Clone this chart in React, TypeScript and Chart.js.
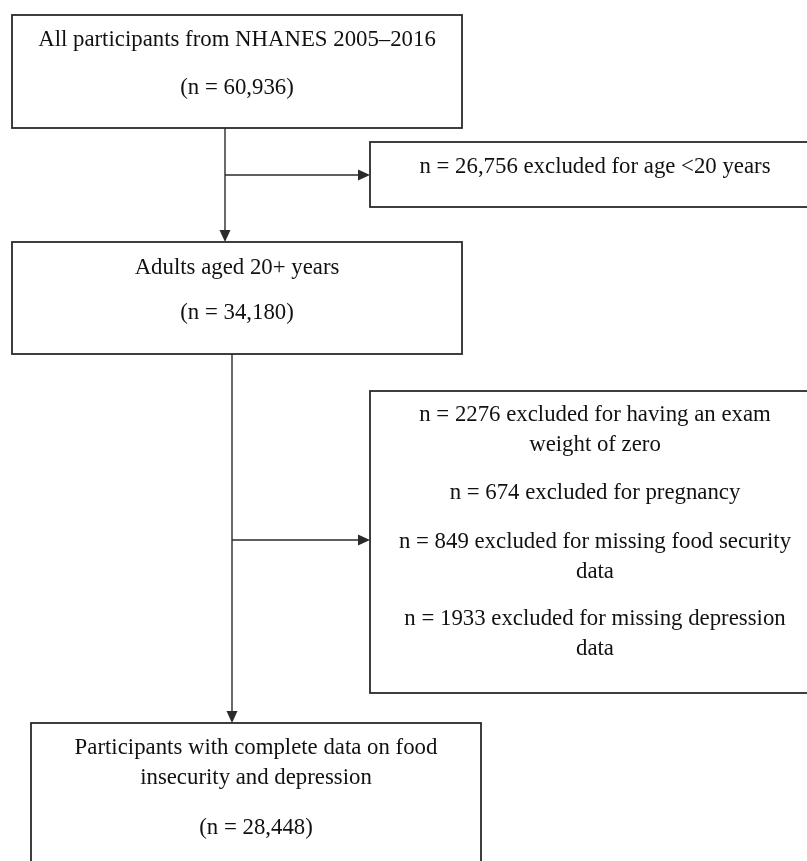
import React, { useEffect, useRef } from 'react';
import { Chart, registerables } from 'chart.js';

Chart.register(...registerables);

// ---- data ----
const stageTitles: string[][] = [
  ['All participants from NHANES 2005–2016'],
  ['Adults aged 20+ years'],
  ['Participants with complete data on food', 'insecurity and depression'],
];
const stageCounts: string[] = ['60,936', '34,180', '28,448'];

const exclusionCounts: string[][] = [['26,756'], ['2276', '674', '849', '1933']];
const exclusionReasons: string[][][] = [
  [['excluded for age <20 years']],
  [
    ['excluded for having an exam', 'weight of zero'],
    ['excluded for pregnancy'],
    ['excluded for missing food security', 'data'],
    ['excluded for missing depression', 'data'],
  ],
];

// ---- layout (in scale units; scales span the canvas) ----
const W = 807;
const H = 861;
const stageBoxes = [
  { x0: 12, x1: 462, y0: 15, y1: 128 },
  { x0: 12, x1: 462, y0: 242, y1: 354 },
  { x0: 31, x1: 481, y0: 723, y1: 905 },
];
const stageLineY: number[][] = [
  [40, 88],
  [268, 313],
  [748, 778, 828],
];
const exclBoxes = [
  { x0: 370, x1: 822, y0: 142, y1: 207 },
  { x0: 370, x1: 822, y0: 391, y1: 693 },
];
const exclLineY: number[][] = [[167], [415, 445, 493, 542, 572, 619, 649]];
const trunkX = [225, 232];
const branchY = [175, 540];

const FONT = '22.8px "Liberation Serif", "Times New Roman", serif';
const TEXT_COLOR = '#111111';
const LINE_COLOR = '#2a2a2a';

function stageLines(i: number): string[] {
  return [...stageTitles[i], `(n = ${stageCounts[i]})`];
}
function exclLines(g: number): string[] {
  const out: string[] = [];
  exclusionCounts[g].forEach((c, k) => {
    const reason = exclusionReasons[g][k];
    out.push(`n = ${c} ${reason[0]}`);
    for (let j = 1; j < reason.length; j++) out.push(reason[j]);
  });
  return out;
}

const flowPlugin = {
  id: 'flowchart',
  afterDraw(chart: any) {
    const ctx = chart.ctx as CanvasRenderingContext2D;
    const xs = chart.scales.x;
    const ys = chart.scales.y;
    const px = (v: number) => xs.getPixelForValue(v);
    const py = (v: number) => ys.getPixelForValue(v);

    ctx.save();
    ctx.strokeStyle = LINE_COLOR;
    ctx.fillStyle = LINE_COLOR;

    const rect = (b: { x0: number; x1: number; y0: number; y1: number }) => {
      ctx.lineWidth = 1.8;
      ctx.strokeRect(px(b.x0), py(b.y0), px(b.x1) - px(b.x0), py(b.y1) - py(b.y0));
    };
    const line = (x0: number, y0: number, x1: number, y1: number) => {
      ctx.lineWidth = 1.4;
      ctx.beginPath();
      ctx.moveTo(px(x0), py(y0));
      ctx.lineTo(px(x1), py(y1));
      ctx.stroke();
    };
    const headDown = (x: number, y: number) => {
      const X = px(x), Y = py(y);
      ctx.beginPath();
      ctx.moveTo(X, Y);
      ctx.lineTo(X - 5.5, Y - 12);
      ctx.lineTo(X + 5.5, Y - 12);
      ctx.closePath();
      ctx.fill();
    };
    const headRight = (x: number, y: number) => {
      const X = px(x), Y = py(y);
      ctx.beginPath();
      ctx.moveTo(X, Y);
      ctx.lineTo(X - 12, Y - 5.5);
      ctx.lineTo(X - 12, Y + 5.5);
      ctx.closePath();
      ctx.fill();
    };

    stageBoxes.forEach(rect);
    exclBoxes.forEach(rect);

    // connectors
    for (let i = 0; i < 2; i++) {
      const from = stageBoxes[i];
      const to = stageBoxes[i + 1];
      line(trunkX[i], from.y1, trunkX[i], to.y0 - 11);
      headDown(trunkX[i], to.y0);
      line(trunkX[i], branchY[i], exclBoxes[i].x0 - 11, branchY[i]);
      headRight(exclBoxes[i].x0, branchY[i]);
    }

    // text
    ctx.font = FONT;
    ctx.fillStyle = TEXT_COLOR;
    ctx.textAlign = 'center';
    ctx.textBaseline = 'middle';
    stageBoxes.forEach((b, i) => {
      const cx = px((b.x0 + b.x1) / 2);
      stageLines(i).forEach((t, k) => ctx.fillText(t, cx, py(stageLineY[i][k])));
    });
    exclBoxes.forEach((b, g) => {
      const cx = px((b.x0 + b.x1) / 2) - 1;
      exclLines(g).forEach((t, k) => ctx.fillText(t, cx, py(exclLineY[g][k])));
    });
    ctx.restore();
  },
};

export default function App() {
  const ref = useRef<HTMLCanvasElement | null>(null);
  useEffect(() => {
    document.body.style.margin = '0';
    const canvas = ref.current!;
    const chart = new Chart(canvas, {
      type: 'scatter',
      data: { datasets: [{ data: [], pointRadius: 0 }] },
      options: {
        animation: false,
        responsive: false,
        maintainAspectRatio: false,
        layout: { padding: 0 },
        plugins: { legend: { display: false }, tooltip: { enabled: false } },
        scales: {
          x: { type: 'linear', min: 0, max: W, display: false },
          y: { type: 'linear', min: 0, max: H, reverse: true, display: false },
        },
      },
      plugins: [flowPlugin],
    });
    return () => chart.destroy();
  }, []);
  return (
    <div style={{ position: 'absolute', left: 0, top: 0, width: W, height: H, background: '#fff' }}>
      <canvas ref={ref} width={W} height={H} style={{ display: 'block' }} />
    </div>
  );
}
